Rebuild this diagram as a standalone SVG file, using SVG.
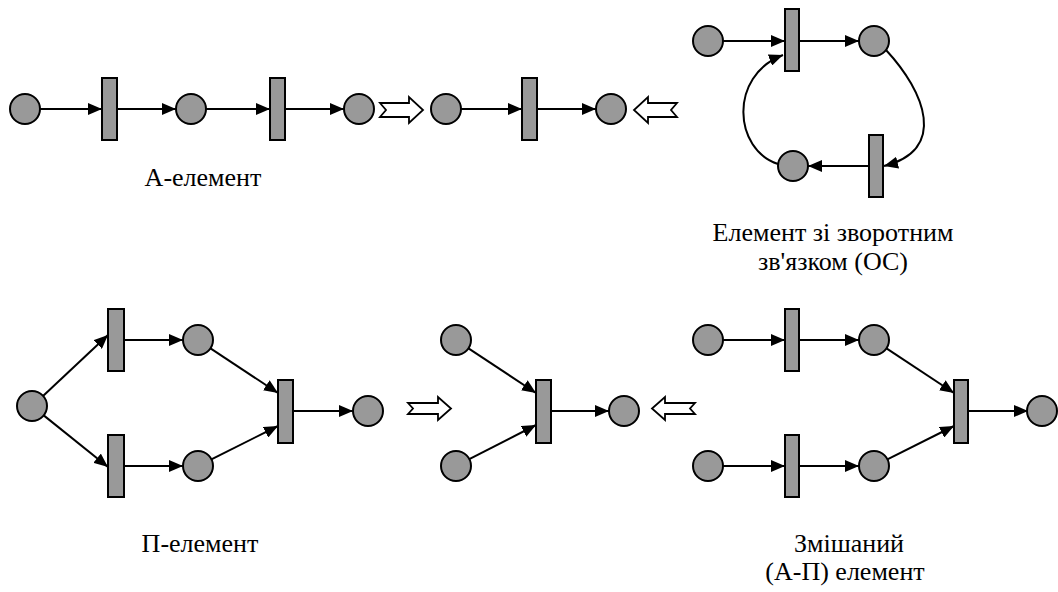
<svg xmlns="http://www.w3.org/2000/svg" width="1058" height="592" viewBox="0 0 1058 592">
<defs>
<marker id="ah" markerUnits="userSpaceOnUse" markerWidth="14" markerHeight="12" refX="14" refY="6" orient="auto">
<path d="M0,0 L14,6 L0,12 z" fill="#000"/>
</marker>
<style>
.p{fill:#999;stroke:#000;stroke-width:2}
.t{fill:#999;stroke:#000;stroke-width:2}
.c{fill:none;stroke:#000;stroke-width:2;marker-end:url(#ah)}
.h{fill:#fff;stroke:#000;stroke-width:1.8}
</style>
</defs>
<rect width="1058" height="592" fill="#fff"/>

<g id="connectors">
<line class="c" x1="40" y1="109" x2="102" y2="109"/>
<line class="c" x1="117" y1="109" x2="176" y2="109"/>
<line class="c" x1="206" y1="109" x2="270" y2="109"/>
<line class="c" x1="285" y1="109" x2="344" y2="109"/>
<line class="c" x1="461" y1="109" x2="522" y2="109"/>
<line class="c" x1="537" y1="109" x2="596" y2="109"/>
<line class="c" x1="723" y1="41" x2="785" y2="41"/>
<line class="c" x1="799" y1="41" x2="859" y2="41"/>
<path class="c" d="M886,50 C925,92 948,150 884,166"/>
<line class="c" x1="869" y1="166" x2="808" y2="166"/>
<path class="c" d="M778,164 C734,150 728,76 783,55"/>
<line class="c" x1="43" y1="396" x2="108" y2="335"/>
<line class="c" x1="43.7" y1="415.4" x2="108" y2="467"/>
<line class="c" x1="124" y1="340" x2="183" y2="340"/>
<line class="c" x1="124" y1="466" x2="183" y2="466"/>
<line class="c" x1="210.5" y1="348.3" x2="278" y2="393"/>
<line class="c" x1="211.4" y1="459.3" x2="278" y2="426"/>
<line class="c" x1="293" y1="411" x2="353" y2="411"/>
<line class="c" x1="468.5" y1="348.3" x2="536" y2="393"/>
<line class="c" x1="469.3" y1="459.2" x2="536" y2="425"/>
<line class="c" x1="551" y1="411" x2="609" y2="411"/>
<line class="c" x1="723" y1="340" x2="785" y2="340"/>
<line class="c" x1="723" y1="466" x2="785" y2="466"/>
<line class="c" x1="799" y1="340" x2="859" y2="340"/>
<line class="c" x1="799" y1="466" x2="859" y2="466"/>
<line class="c" x1="886.5" y1="348.3" x2="954" y2="393"/>
<line class="c" x1="887.4" y1="459.3" x2="954" y2="426"/>
<line class="c" x1="968" y1="411" x2="1028" y2="411"/>
</g>

<g id="hollow-arrows">
<polygon class="h" points="380,103 409,103 409,97 423,110 409,123 409,117 380,117 386,110"/>
<polygon class="h" points="677,103 648,103 648,97 634,110 648,123 648,117 677,117 671,110"/>
<polygon class="h" points="408,403 438,403 438,397 451,408.5 438,420 438,414 408,414 413,408.5"/>
<polygon class="h" points="695,403 665,403 665,397 652,408.5 665,420 665,414 695,414 690,408.5"/>
</g>

<g id="a-element">
<circle class="p" cx="25" cy="109" r="15"/>
<rect class="t" x="102" y="78" width="15" height="62"/>
<circle class="p" cx="191" cy="109" r="15"/>
<rect class="t" x="270" y="78" width="15" height="62"/>
<circle class="p" cx="359" cy="109" r="15"/>
<text x="203" y="186" font-size="26" text-anchor="middle" style="font-family:'Liberation Serif',serif">А-елемент</text>
</g>

<g id="base-element">
<circle class="p" cx="446" cy="109" r="15"/>
<rect class="t" x="522" y="78" width="15" height="62"/>
<circle class="p" cx="611" cy="109" r="15"/>
</g>

<g id="feedback-element">
<circle class="p" cx="708" cy="41" r="15"/>
<rect class="t" x="785" y="9" width="14" height="62"/>
<circle class="p" cx="874" cy="41" r="15"/>
<rect class="t" x="869" y="135" width="14" height="62"/>
<circle class="p" cx="793" cy="166" r="15"/>
<text x="833" y="241" font-size="26" text-anchor="middle" style="font-family:'Liberation Serif',serif">Елемент зі зворотним</text>
<text x="833" y="270" font-size="26" text-anchor="middle" style="font-family:'Liberation Serif',serif">зв'язком (ОС)</text>
</g>

<g id="p-element">
<circle class="p" cx="32" cy="406" r="15"/>
<rect class="t" x="108" y="309" width="16" height="62"/>
<rect class="t" x="108" y="435" width="16" height="62"/>
<circle class="p" cx="198" cy="340" r="15"/>
<circle class="p" cx="198" cy="466" r="15"/>
<rect class="t" x="278" y="380" width="15" height="63"/>
<circle class="p" cx="368" cy="411" r="15"/>
<text x="200" y="552" font-size="26" text-anchor="middle" style="font-family:'Liberation Serif',serif">П-елемент</text>
</g>

<g id="join-element">
<circle class="p" cx="456" cy="340" r="15"/>
<circle class="p" cx="456" cy="466" r="15"/>
<rect class="t" x="536" y="380" width="15" height="63"/>
<circle class="p" cx="624" cy="411" r="15"/>
</g>

<g id="mixed-element">
<circle class="p" cx="708" cy="340" r="15"/>
<circle class="p" cx="708" cy="466" r="15"/>
<rect class="t" x="785" y="309" width="14" height="62"/>
<rect class="t" x="785" y="435" width="14" height="62"/>
<circle class="p" cx="874" cy="340" r="15"/>
<circle class="p" cx="874" cy="466" r="15"/>
<rect class="t" x="954" y="380" width="14" height="63"/>
<circle class="p" cx="1042" cy="411" r="15"/>
<text x="849" y="552" font-size="26" text-anchor="middle" style="font-family:'Liberation Serif',serif">Змішаний</text>
<text x="845" y="580" font-size="26" text-anchor="middle" style="font-family:'Liberation Serif',serif">(А-П) елемент</text>
</g>
</svg>
